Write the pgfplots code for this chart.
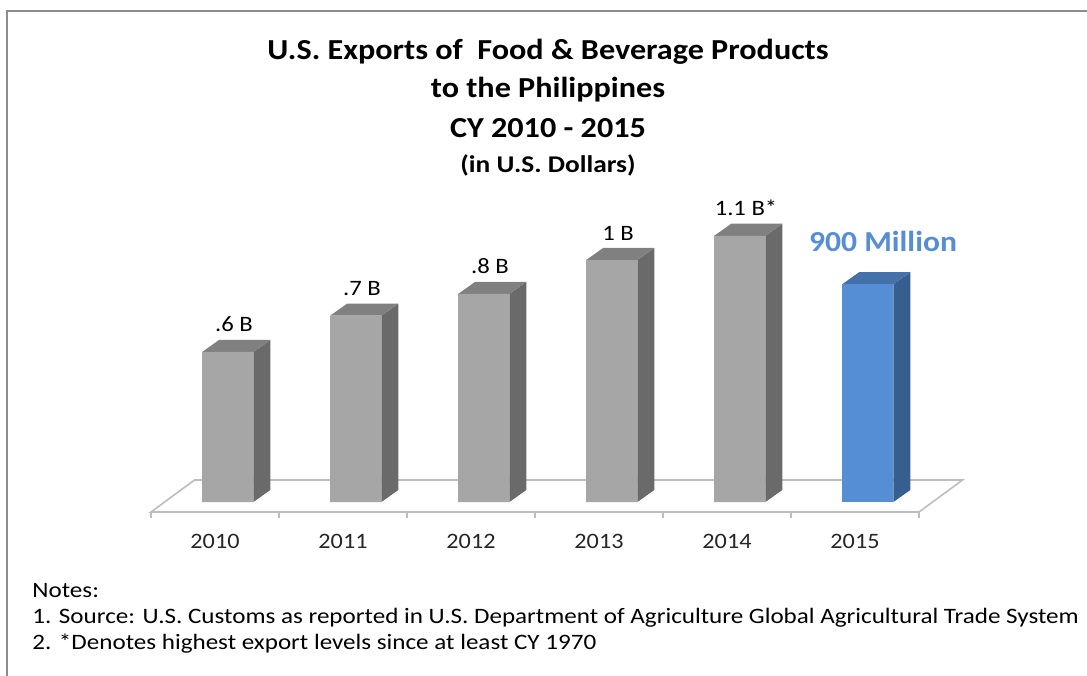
\documentclass[border=0pt]{standalone}
\usepackage{graphicx}
\usepackage{pgfplots}
\pgfplotsset{compat=1.18}
\usepackage{pgfplotstable}
\usepackage{fontspec}
\setmainfont{Carlito}
\definecolor{gfront}{HTML}{A6A6A6}
\definecolor{gside}{HTML}{6A6A6A}
\definecolor{gtop}{HTML}{808080}
\definecolor{bfront}{HTML}{558ED5}
\definecolor{bside}{HTML}{365E8F}
\definecolor{btop}{HTML}{4471AA}
\definecolor{floorc}{HTML}{BDBDBD}
\definecolor{framec}{HTML}{8C8C8C}
\newcommand\sx[2][1.11]{\scalebox{#1}[1]{#2}}

\pgfplotstableread{
x v label
0 0.62 {.6 B}
1 0.77 {.7 B}
2 0.86 {.8 B}
3 1.00 {1 B}
4 1.10 {1.1 B*}
}\grayvals
\pgfplotstableread{
x v label
5 0.90 {900 Million}
}\bluevals

\begin{document}
\begin{tikzpicture}
\begin{scope}[x=0.5pt,y=-0.5pt]
\path[use as bounding box] (0,0) rectangle (1087,675);
\draw[framec, line width=1pt] (7,676) -- (7,11) -- (1088,11);
\node[anchor=base, font=\fontsize{14.5}{17}\selectfont\bfseries] at (548,59) {\sx{U.S. Exports of\ \ Food \& Beverage Products}};
\node[anchor=base, font=\fontsize{14.5}{17}\selectfont\bfseries] at (548,97) {\sx{to the Philippines}};
\node[anchor=base, font=\fontsize{14.5}{17}\selectfont\bfseries] at (548,137) {\sx{CY 2010 - 2015}};
\node[anchor=base, font=\fontsize{12}{14}\selectfont\bfseries] at (548,172) {\sx[1.14]{(in U.S. Dollars)}};
\node[anchor=base west, inner sep=0pt, font=\fontsize{11}{13}\selectfont] at (32,597) {\sx[1.14]{Notes:}};
\node[anchor=base west, inner sep=0pt, font=\fontsize{11}{13}\selectfont] at (32,623) {\sx[1.14]{1. Source: U.S. Customs as reported in U.S. Department of Agriculture Global Agricultural Trade System}};
\node[anchor=base west, inner sep=0pt, font=\fontsize{11}{13}\selectfont] at (32,649) {\sx[1.14]{2. *Denotes highest export levels since at least CY 1970}};
\end{scope}
\begin{axis}[
  at={(75.5pt,-256pt)}, anchor=south west,
  scale only axis, x=64pt, y=121pt,
  xmin=-0.5, xmax=5.5, ymin=-0.0413, ymax=1.4,
  clip=false,
  axis x line*=bottom, axis y line=none,
  x axis line style={draw=floorc, line width=1pt},
  xtick={0,...,5}, xticklabels={\sx[1.1]{2010},\sx[1.1]{2011},\sx[1.1]{2012},\sx[1.1]{2013},\sx[1.1]{2014},\sx[1.1]{2015}},
  minor xtick={-0.5,0.5,...,5.5},
  major tick length=0pt, minor tick length=3pt, tick align=outside,
  tick style={draw=floorc, line width=1pt},
  xticklabel style={anchor=base, yshift=-18pt, font=\fontsize{11}{13}\selectfont, text=black!85},
]
% floor
\addplot[fill=white, draw=floorc, line width=0.8pt] coordinates {(-0.5,-0.0413) (5.5,-0.0413) (5.84,0.0909) (-0.16,0.0909)} -- cycle;
% side faces
\addplot[fill=gside, draw=none] coordinates {(0.3,0) (0.433,0.05) (0.433,0.67) (0.3,0.62)} -- cycle;
\addplot[fill=gside, draw=none] coordinates {(1.3,0) (1.433,0.05) (1.433,0.82) (1.3,0.77)} -- cycle;
\addplot[fill=gside, draw=none] coordinates {(2.3,0) (2.433,0.05) (2.433,0.91) (2.3,0.86)} -- cycle;
\addplot[fill=gside, draw=none] coordinates {(3.3,0) (3.433,0.05) (3.433,1.05) (3.3,1.00)} -- cycle;
\addplot[fill=gside, draw=none] coordinates {(4.3,0) (4.433,0.05) (4.433,1.15) (4.3,1.10)} -- cycle;
\addplot[fill=bside, draw=none] coordinates {(5.3,0) (5.433,0.05) (5.433,0.95) (5.3,0.90)} -- cycle;
% top faces
\addplot[fill=gtop, draw=none] coordinates {(-0.1,0.62) (0.3,0.62) (0.433,0.67) (0.033,0.67)} -- cycle;
\addplot[fill=gtop, draw=none] coordinates {(0.9,0.77) (1.3,0.77) (1.433,0.82) (1.033,0.82)} -- cycle;
\addplot[fill=gtop, draw=none] coordinates {(1.9,0.86) (2.3,0.86) (2.433,0.91) (2.033,0.91)} -- cycle;
\addplot[fill=gtop, draw=none] coordinates {(2.9,1.00) (3.3,1.00) (3.433,1.05) (3.033,1.05)} -- cycle;
\addplot[fill=gtop, draw=none] coordinates {(3.9,1.10) (4.3,1.10) (4.433,1.15) (4.033,1.15)} -- cycle;
\addplot[fill=btop, draw=none] coordinates {(4.9,0.90) (5.3,0.90) (5.433,0.95) (5.033,0.95)} -- cycle;
% front faces
\addplot[ybar, bar width=0.4, bar shift=0.1, fill=gfront, draw=none,
  nodes near coords={\sx[1.12]{\pgfplotspointmeta}}, point meta=explicit symbolic,
  every node near coord/.append style={anchor=base, yshift=10pt, xshift=9.5pt, font=\fontsize{11}{13}\selectfont, text=black}]
  table[x=x, y=v, meta=label]{\grayvals};
\addplot[ybar, bar width=0.4, bar shift=0.1, fill=bfront, draw=none,
  nodes near coords={\sx[1.09]{\pgfplotspointmeta}}, point meta=explicit symbolic,
  every node near coord/.append style={anchor=base, yshift=16.5pt, xshift=14pt, font=\fontsize{14.5}{17}\selectfont\bfseries, text=bfront}]
  table[x=x, y=v, meta=label]{\bluevals};
\end{axis}
\end{tikzpicture}
\end{document}
